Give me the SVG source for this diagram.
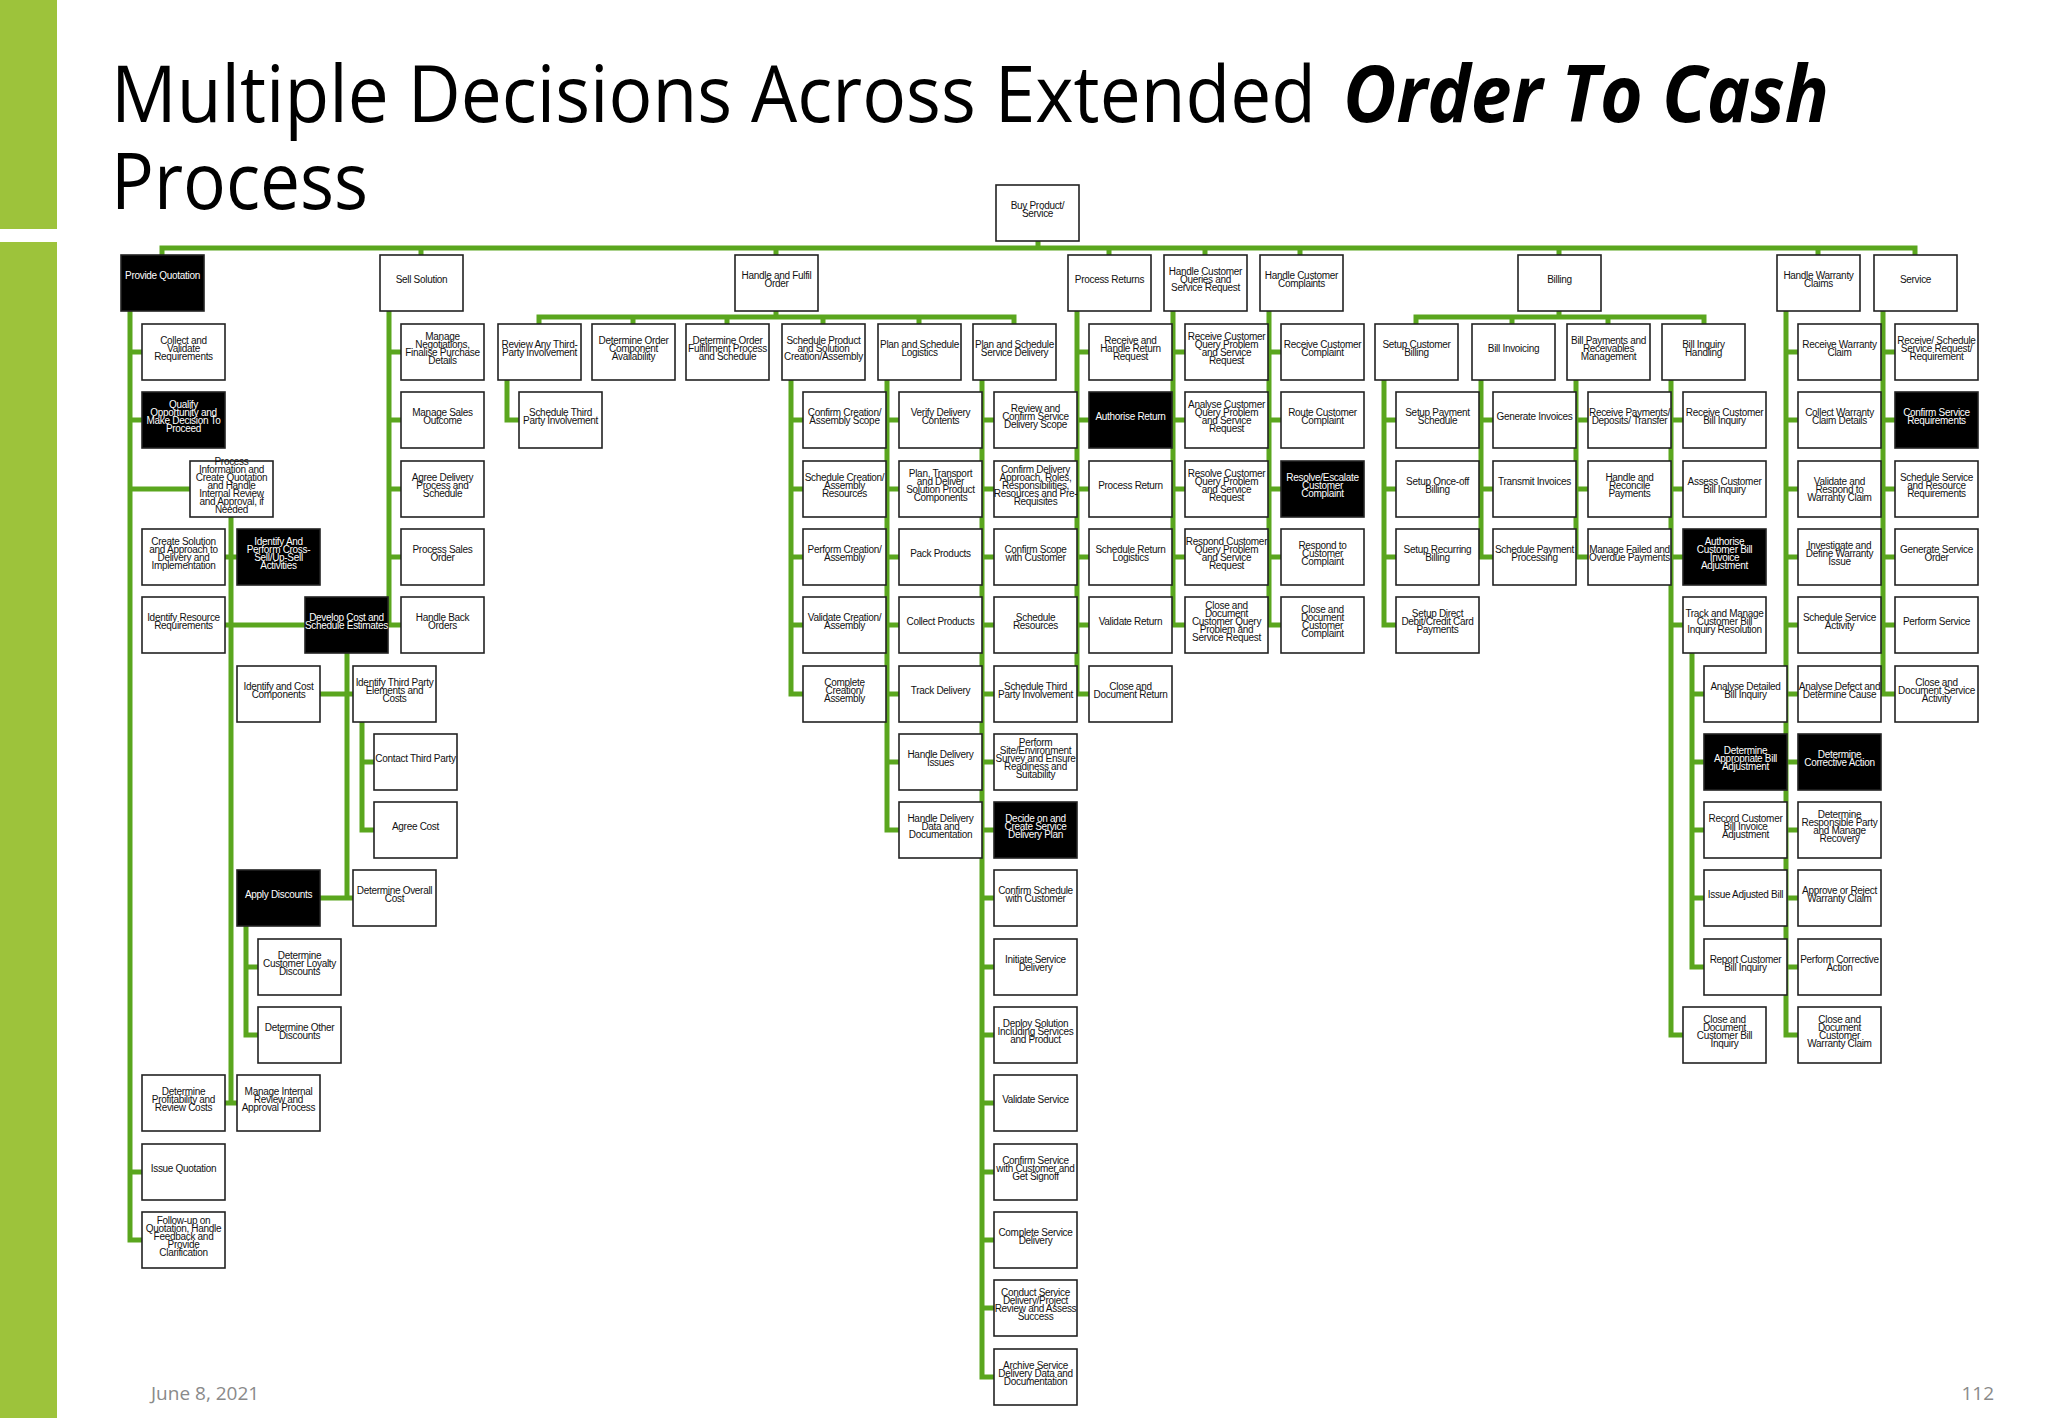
<svg xmlns="http://www.w3.org/2000/svg" width="2048" height="1418" viewBox="0 0 2048 1418">
<style>
.n rect{fill:#fff;stroke:#222;stroke-width:1.6}
.b rect{fill:#000;stroke:#222;stroke-width:1.6}
.n text,.b text{font-family:"Liberation Sans",Arial,sans-serif;font-size:10px;letter-spacing:-0.3px;text-anchor:middle}
.n text{fill:#111}.b text{fill:#fff}
#conn path{fill:none;stroke:#5aa61e;stroke-width:5;stroke-linecap:square}
.title{font-family:"Open Sans","Liberation Sans",sans-serif;font-size:78px;fill:#000}
.foot{font-family:"Open Sans","Liberation Sans",sans-serif;font-size:19px;fill:#8a8a8a}
</style>
<rect x="0" y="0" width="57" height="229" fill="#9dc33b"/>
<rect x="0" y="242" width="57" height="1176" fill="#9dc33b"/>
<text class="title" x="111" y="122" textLength="1205" lengthAdjust="spacingAndGlyphs">Multiple Decisions Across Extended</text>
<text class="title" x="1343" y="122" textLength="486" lengthAdjust="spacingAndGlyphs" font-weight="bold" font-style="italic">Order To Cash</text>
<text class="title" x="111" y="209" textLength="257" lengthAdjust="spacingAndGlyphs">Process</text>
<text class="foot" x="151" y="1400">June 8, 2021</text>
<text class="foot" x="1994" y="1400" text-anchor="end">112</text>
<g id="conn">
<path d="M162,248H1915M1038,242V248M162,248V255M421,248V255M776,248V255M1109,248V255M1205,248V255M1300,248V255M1559,248V255M1818,248V255M1915,248V255"/>
<path d="M130,311V1240M130,352H142M130,420H142M130,489H190M130,1172H142M130,1240H142"/>
<path d="M231,517V1103M225,557H237M225,625H305M225,1103H237"/>
<path d="M347,653V898M320,694H353M320,898H353"/>
<path d="M362,722V830M362,762H374M362,830H374"/>
<path d="M246,926V1035M246,967H258M246,1035H258"/>
<path d="M389,311V625M389,352H401M389,420H401M389,489H401M389,557H401M389,625H401"/>
<path d="M776,311V317M539,317H1014M539,317V324M633,317V324M727,317V324M823,317V324M919,317V324M1014,317V324"/>
<path d="M507,380V420H519"/>
<path d="M791,380V694M791,420H803M791,489H803M791,557H803M791,625H803M791,694H803"/>
<path d="M887,380V830M887,420H899M887,489H899M887,557H899M887,625H899M887,694H899M887,762H899M887,830H899"/>
<path d="M982,380V1377M982,420H994M982,489H994M982,557H994M982,625H994M982,694H994M982,762H994M982,830H994M982,898H994M982,967H994M982,1035H994M982,1103H994M982,1172H994M982,1240H994M982,1308H994M982,1377H994"/>
<path d="M1077,311V694M1077,352H1089M1077,420H1089M1077,489H1089M1077,557H1089M1077,625H1089M1077,694H1089"/>
<path d="M1173,311V625M1173,352H1185M1173,420H1185M1173,489H1185M1173,557H1185M1173,625H1185"/>
<path d="M1269,311V625M1269,352H1281M1269,420H1281M1269,489H1281M1269,557H1281M1269,625H1281"/>
<path d="M1559,311V317M1416,317H1704M1416,317V324M1512,317V324M1608,317V324M1704,317V324"/>
<path d="M1384,380V625M1384,420H1396M1384,489H1396M1384,557H1396M1384,625H1396"/>
<path d="M1481,380V557M1481,420H1493M1481,489H1493M1481,557H1493"/>
<path d="M1576,380V557M1576,420H1588M1576,489H1588M1576,557H1588"/>
<path d="M1671,380V1035M1671,420H1683M1671,489H1683M1671,557H1683M1671,625H1683M1671,1035H1683"/>
<path d="M1692,653V967M1692,694H1704M1692,762H1704M1692,830H1704M1692,898H1704M1692,967H1704"/>
<path d="M1786,311V1035M1786,352H1798M1786,420H1798M1786,489H1798M1786,557H1798M1786,625H1798M1786,694H1798M1786,762H1798M1786,830H1798M1786,898H1798M1786,967H1798M1786,1035H1798"/>
<path d="M1883,311V694M1883,352H1895M1883,420H1895M1883,489H1895M1883,557H1895M1883,625H1895M1883,694H1895"/>
</g>
<g id="buy" class="n"><rect x="996" y="185" width="83" height="56"/><text x="1037.5" y="209"><tspan x="1037.5">Buy Product/</tspan><tspan x="1037.5" dy="8">Service</tspan></text></g>
<g id="pq" class="b"><rect x="121" y="255" width="83" height="56"/><text x="162.5" y="279">Provide Quotation</text></g>
<g id="pq1" class="n"><rect x="142" y="324" width="83" height="56"/><text y="344"><tspan x="183.5">Collect and</tspan><tspan x="183.5" dy="8">Validate</tspan><tspan x="183.5" dy="8">Requirements</tspan></text></g>
<g id="pq2" class="b"><rect x="142" y="392" width="83" height="56"/><text y="408"><tspan x="183.5">Qualify</tspan><tspan x="183.5" dy="8">Opportunity and</tspan><tspan x="183.5" dy="8">Make Decision To</tspan><tspan x="183.5" dy="8">Proceed</tspan></text></g>
<g id="pq3" class="n"><rect x="190" y="461" width="83" height="56"/><text y="465"><tspan x="231.5">Process</tspan><tspan x="231.5" dy="8">Information and</tspan><tspan x="231.5" dy="8">Create Quotation</tspan><tspan x="231.5" dy="8">and Handle</tspan><tspan x="231.5" dy="8">Internal Review</tspan><tspan x="231.5" dy="8">and Approval, if</tspan><tspan x="231.5" dy="8">Needed</tspan></text></g>
<g id="pq4" class="n"><rect x="142" y="529" width="83" height="56"/><text y="545"><tspan x="183.5">Create Solution</tspan><tspan x="183.5" dy="8">and Approach to</tspan><tspan x="183.5" dy="8">Delivery and</tspan><tspan x="183.5" dy="8">Implementation</tspan></text></g>
<g id="pq5" class="b"><rect x="237" y="529" width="83" height="56"/><text y="545"><tspan x="278.5">Identify And</tspan><tspan x="278.5" dy="8">Perform Cross-</tspan><tspan x="278.5" dy="8">Sell/Up-Sell</tspan><tspan x="278.5" dy="8">Activities</tspan></text></g>
<g id="pq6" class="n"><rect x="142" y="597" width="83" height="56"/><text y="621"><tspan x="183.5">Identify Resource</tspan><tspan x="183.5" dy="8">Requirements</tspan></text></g>
<g id="pq7" class="b"><rect x="305" y="597" width="83" height="56"/><text y="621"><tspan x="346.5">Develop Cost and</tspan><tspan x="346.5" dy="8">Schedule Estimates</tspan></text></g>
<g id="pq8" class="n"><rect x="237" y="666" width="83" height="56"/><text y="690"><tspan x="278.5">Identify and Cost</tspan><tspan x="278.5" dy="8">Components</tspan></text></g>
<g id="pq9" class="n"><rect x="353" y="666" width="83" height="56"/><text y="686"><tspan x="394.5">Identify Third Party</tspan><tspan x="394.5" dy="8">Elements and</tspan><tspan x="394.5" dy="8">Costs</tspan></text></g>
<g id="pq10" class="n"><rect x="374" y="734" width="83" height="56"/><text x="415.5" y="762">Contact Third Party</text></g>
<g id="pq11" class="n"><rect x="374" y="802" width="83" height="56"/><text x="415.5" y="830">Agree Cost</text></g>
<g id="pq12" class="b"><rect x="237" y="870" width="83" height="56"/><text x="278.5" y="898">Apply Discounts</text></g>
<g id="pq13" class="n"><rect x="353" y="870" width="83" height="56"/><text y="894"><tspan x="394.5">Determine Overall</tspan><tspan x="394.5" dy="8">Cost</tspan></text></g>
<g id="pq14" class="n"><rect x="258" y="939" width="83" height="56"/><text y="959"><tspan x="299.5">Determine</tspan><tspan x="299.5" dy="8">Customer Loyalty</tspan><tspan x="299.5" dy="8">Discounts</tspan></text></g>
<g id="pq15" class="n"><rect x="258" y="1007" width="83" height="56"/><text y="1031"><tspan x="299.5">Determine Other</tspan><tspan x="299.5" dy="8">Discounts</tspan></text></g>
<g id="pq16" class="n"><rect x="142" y="1075" width="83" height="56"/><text y="1095"><tspan x="183.5">Determine</tspan><tspan x="183.5" dy="8">Profitability and</tspan><tspan x="183.5" dy="8">Review Costs</tspan></text></g>
<g id="pq17" class="n"><rect x="237" y="1075" width="83" height="56"/><text y="1095"><tspan x="278.5">Manage Internal</tspan><tspan x="278.5" dy="8">Review and</tspan><tspan x="278.5" dy="8">Approval Process</tspan></text></g>
<g id="pq18" class="n"><rect x="142" y="1144" width="83" height="56"/><text x="183.5" y="1172">Issue Quotation</text></g>
<g id="pq19" class="n"><rect x="142" y="1212" width="83" height="56"/><text y="1224"><tspan x="183.5">Follow-up on</tspan><tspan x="183.5" dy="8">Quotation, Handle</tspan><tspan x="183.5" dy="8">Feedback and</tspan><tspan x="183.5" dy="8">Provide</tspan><tspan x="183.5" dy="8">Clarification</tspan></text></g>
<g id="ss" class="n"><rect x="380" y="255" width="83" height="56"/><text x="421.5" y="283">Sell Solution</text></g>
<g id="ss1" class="n"><rect x="401" y="324" width="83" height="56"/><text y="340"><tspan x="442.5">Manage</tspan><tspan x="442.5" dy="8">Negotiations,</tspan><tspan x="442.5" dy="8">Finalise Purchase</tspan><tspan x="442.5" dy="8">Details</tspan></text></g>
<g id="ss2" class="n"><rect x="401" y="392" width="83" height="56"/><text y="416"><tspan x="442.5">Manage Sales</tspan><tspan x="442.5" dy="8">Outcome</tspan></text></g>
<g id="ss3" class="n"><rect x="401" y="461" width="83" height="56"/><text y="481"><tspan x="442.5">Agree Delivery</tspan><tspan x="442.5" dy="8">Process and</tspan><tspan x="442.5" dy="8">Schedule</tspan></text></g>
<g id="ss4" class="n"><rect x="401" y="529" width="83" height="56"/><text y="553"><tspan x="442.5">Process Sales</tspan><tspan x="442.5" dy="8">Order</tspan></text></g>
<g id="ss5" class="n"><rect x="401" y="597" width="83" height="56"/><text y="621"><tspan x="442.5">Handle Back</tspan><tspan x="442.5" dy="8">Orders</tspan></text></g>
<g id="hf" class="n"><rect x="735" y="255" width="83" height="56"/><text y="279"><tspan x="776.5">Handle and Fulfil</tspan><tspan x="776.5" dy="8">Order</tspan></text></g>
<g id="hf1" class="n"><rect x="498" y="324" width="83" height="56"/><text y="348"><tspan x="539.5">Review Any Third-</tspan><tspan x="539.5" dy="8">Party Involvement</tspan></text></g>
<g id="hf1a" class="n"><rect x="519" y="392" width="83" height="56"/><text y="416"><tspan x="560.5">Schedule Third</tspan><tspan x="560.5" dy="8">Party Involvement</tspan></text></g>
<g id="hf2" class="n"><rect x="592" y="324" width="83" height="56"/><text y="344"><tspan x="633.5">Determine Order</tspan><tspan x="633.5" dy="8">Component</tspan><tspan x="633.5" dy="8">Availability</tspan></text></g>
<g id="hf3" class="n"><rect x="686" y="324" width="83" height="56"/><text y="344"><tspan x="727.5">Determine Order</tspan><tspan x="727.5" dy="8">Fulfillment Process</tspan><tspan x="727.5" dy="8">and Schedule</tspan></text></g>
<g id="hf4" class="n"><rect x="782" y="324" width="83" height="56"/><text y="344"><tspan x="823.5">Schedule Product</tspan><tspan x="823.5" dy="8">and Solution</tspan><tspan x="823.5" dy="8">Creation/Assembly</tspan></text></g>
<g id="hf5" class="n"><rect x="878" y="324" width="83" height="56"/><text y="348"><tspan x="919.5">Plan and Schedule</tspan><tspan x="919.5" dy="8">Logistics</tspan></text></g>
<g id="hf6" class="n"><rect x="973" y="324" width="83" height="56"/><text y="348"><tspan x="1014.5">Plan and Schedule</tspan><tspan x="1014.5" dy="8">Service Delivery</tspan></text></g>
<g id="ca1" class="n"><rect x="803" y="392" width="83" height="56"/><text y="416"><tspan x="844.5">Confirm Creation/</tspan><tspan x="844.5" dy="8">Assembly Scope</tspan></text></g>
<g id="ca2" class="n"><rect x="803" y="461" width="83" height="56"/><text y="481"><tspan x="844.5">Schedule Creation/</tspan><tspan x="844.5" dy="8">Assembly</tspan><tspan x="844.5" dy="8">Resources</tspan></text></g>
<g id="ca3" class="n"><rect x="803" y="529" width="83" height="56"/><text y="553"><tspan x="844.5">Perform Creation/</tspan><tspan x="844.5" dy="8">Assembly</tspan></text></g>
<g id="ca4" class="n"><rect x="803" y="597" width="83" height="56"/><text y="621"><tspan x="844.5">Validate Creation/</tspan><tspan x="844.5" dy="8">Assembly</tspan></text></g>
<g id="ca5" class="n"><rect x="803" y="666" width="83" height="56"/><text y="686"><tspan x="844.5">Complete</tspan><tspan x="844.5" dy="8">Creation/</tspan><tspan x="844.5" dy="8">Assembly</tspan></text></g>
<g id="lg1" class="n"><rect x="899" y="392" width="83" height="56"/><text y="416"><tspan x="940.5">Verify Delivery</tspan><tspan x="940.5" dy="8">Contents</tspan></text></g>
<g id="lg2" class="n"><rect x="899" y="461" width="83" height="56"/><text y="477"><tspan x="940.5">Plan, Transport</tspan><tspan x="940.5" dy="8">and Deliver</tspan><tspan x="940.5" dy="8">Solution Product</tspan><tspan x="940.5" dy="8">Components</tspan></text></g>
<g id="lg3" class="n"><rect x="899" y="529" width="83" height="56"/><text x="940.5" y="557">Pack Products</text></g>
<g id="lg4" class="n"><rect x="899" y="597" width="83" height="56"/><text x="940.5" y="625">Collect Products</text></g>
<g id="lg5" class="n"><rect x="899" y="666" width="83" height="56"/><text x="940.5" y="694">Track Delivery</text></g>
<g id="lg6" class="n"><rect x="899" y="734" width="83" height="56"/><text y="758"><tspan x="940.5">Handle Delivery</tspan><tspan x="940.5" dy="8">Issues</tspan></text></g>
<g id="lg7" class="n"><rect x="899" y="802" width="83" height="56"/><text y="822"><tspan x="940.5">Handle Delivery</tspan><tspan x="940.5" dy="8">Data and</tspan><tspan x="940.5" dy="8">Documentation</tspan></text></g>
<g id="sd1" class="n"><rect x="994" y="392" width="83" height="56"/><text y="412"><tspan x="1035.5">Review and</tspan><tspan x="1035.5" dy="8">Confirm Service</tspan><tspan x="1035.5" dy="8">Delivery Scope</tspan></text></g>
<g id="sd2" class="n"><rect x="994" y="461" width="83" height="56"/><text y="473"><tspan x="1035.5">Confirm Delivery</tspan><tspan x="1035.5" dy="8">Approach, Roles,</tspan><tspan x="1035.5" dy="8">Responsibilities,</tspan><tspan x="1035.5" dy="8">Resources and Pre-</tspan><tspan x="1035.5" dy="8">Requisites</tspan></text></g>
<g id="sd3" class="n"><rect x="994" y="529" width="83" height="56"/><text y="553"><tspan x="1035.5">Confirm Scope</tspan><tspan x="1035.5" dy="8">with Customer</tspan></text></g>
<g id="sd4" class="n"><rect x="994" y="597" width="83" height="56"/><text y="621"><tspan x="1035.5">Schedule</tspan><tspan x="1035.5" dy="8">Resources</tspan></text></g>
<g id="sd5" class="n"><rect x="994" y="666" width="83" height="56"/><text y="690"><tspan x="1035.5">Schedule Third</tspan><tspan x="1035.5" dy="8">Party Involvement</tspan></text></g>
<g id="sd6" class="n"><rect x="994" y="734" width="83" height="56"/><text y="746"><tspan x="1035.5">Perform</tspan><tspan x="1035.5" dy="8">Site/Environment</tspan><tspan x="1035.5" dy="8">Survey and Ensure</tspan><tspan x="1035.5" dy="8">Readiness and</tspan><tspan x="1035.5" dy="8">Suitability</tspan></text></g>
<g id="sd7" class="b"><rect x="994" y="802" width="83" height="56"/><text y="822"><tspan x="1035.5">Decide  on and</tspan><tspan x="1035.5" dy="8">Create Service</tspan><tspan x="1035.5" dy="8">Delivery Plan</tspan></text></g>
<g id="sd8" class="n"><rect x="994" y="870" width="83" height="56"/><text y="894"><tspan x="1035.5">Confirm Schedule</tspan><tspan x="1035.5" dy="8">with Customer</tspan></text></g>
<g id="sd9" class="n"><rect x="994" y="939" width="83" height="56"/><text y="963"><tspan x="1035.5">Initiate Service</tspan><tspan x="1035.5" dy="8">Delivery</tspan></text></g>
<g id="sd10" class="n"><rect x="994" y="1007" width="83" height="56"/><text y="1027"><tspan x="1035.5">Deploy Solution</tspan><tspan x="1035.5" dy="8">Including Services</tspan><tspan x="1035.5" dy="8">and Product</tspan></text></g>
<g id="sd11" class="n"><rect x="994" y="1075" width="83" height="56"/><text x="1035.5" y="1103">Validate Service</text></g>
<g id="sd12" class="n"><rect x="994" y="1144" width="83" height="56"/><text y="1164"><tspan x="1035.5">Confirm Service</tspan><tspan x="1035.5" dy="8">with Customer and</tspan><tspan x="1035.5" dy="8">Get Signoff</tspan></text></g>
<g id="sd13" class="n"><rect x="994" y="1212" width="83" height="56"/><text y="1236"><tspan x="1035.5">Complete Service</tspan><tspan x="1035.5" dy="8">Delivery</tspan></text></g>
<g id="sd14" class="n"><rect x="994" y="1280" width="83" height="56"/><text y="1296"><tspan x="1035.5">Conduct Service</tspan><tspan x="1035.5" dy="8">Delivery/Project</tspan><tspan x="1035.5" dy="8">Review and Assess</tspan><tspan x="1035.5" dy="8">Success</tspan></text></g>
<g id="sd15" class="n"><rect x="994" y="1349" width="83" height="56"/><text y="1369"><tspan x="1035.5">Archive Service</tspan><tspan x="1035.5" dy="8">Delivery Data and</tspan><tspan x="1035.5" dy="8">Documentation</tspan></text></g>
<g id="pr" class="n"><rect x="1068" y="255" width="83" height="56"/><text x="1109.5" y="283">Process Returns</text></g>
<g id="pr1" class="n"><rect x="1089" y="324" width="83" height="56"/><text y="344"><tspan x="1130.5">Receive and</tspan><tspan x="1130.5" dy="8">Handle Return</tspan><tspan x="1130.5" dy="8">Request</tspan></text></g>
<g id="pr2" class="b"><rect x="1089" y="392" width="83" height="56"/><text x="1130.5" y="420">Authorise Return</text></g>
<g id="pr3" class="n"><rect x="1089" y="461" width="83" height="56"/><text x="1130.5" y="489">Process Return</text></g>
<g id="pr4" class="n"><rect x="1089" y="529" width="83" height="56"/><text y="553"><tspan x="1130.5">Schedule Return</tspan><tspan x="1130.5" dy="8">Logistics</tspan></text></g>
<g id="pr5" class="n"><rect x="1089" y="597" width="83" height="56"/><text x="1130.5" y="625">Validate Return</text></g>
<g id="pr6" class="n"><rect x="1089" y="666" width="83" height="56"/><text y="690"><tspan x="1130.5">Close and</tspan><tspan x="1130.5" dy="8">Document Return</tspan></text></g>
<g id="hq" class="n"><rect x="1164" y="255" width="83" height="56"/><text y="275"><tspan x="1205.5">Handle Customer</tspan><tspan x="1205.5" dy="8">Queries and</tspan><tspan x="1205.5" dy="8">Service Request</tspan></text></g>
<g id="hq1" class="n"><rect x="1185" y="324" width="83" height="56"/><text y="340"><tspan x="1226.5">Receive Customer</tspan><tspan x="1226.5" dy="8">Query Problem</tspan><tspan x="1226.5" dy="8">and Service</tspan><tspan x="1226.5" dy="8">Request</tspan></text></g>
<g id="hq2" class="n"><rect x="1185" y="392" width="83" height="56"/><text y="408"><tspan x="1226.5">Analyse Customer</tspan><tspan x="1226.5" dy="8">Query Problem</tspan><tspan x="1226.5" dy="8">and Service</tspan><tspan x="1226.5" dy="8">Request</tspan></text></g>
<g id="hq3" class="n"><rect x="1185" y="461" width="83" height="56"/><text y="477"><tspan x="1226.5">Resolve Customer</tspan><tspan x="1226.5" dy="8">Query Problem</tspan><tspan x="1226.5" dy="8">and Service</tspan><tspan x="1226.5" dy="8">Request</tspan></text></g>
<g id="hq4" class="n"><rect x="1185" y="529" width="83" height="56"/><text y="545"><tspan x="1226.5">Respond Customer</tspan><tspan x="1226.5" dy="8">Query Problem</tspan><tspan x="1226.5" dy="8">and Service</tspan><tspan x="1226.5" dy="8">Request</tspan></text></g>
<g id="hq5" class="n"><rect x="1185" y="597" width="83" height="56"/><text y="609"><tspan x="1226.5">Close and</tspan><tspan x="1226.5" dy="8">Document</tspan><tspan x="1226.5" dy="8">Customer Query</tspan><tspan x="1226.5" dy="8">Problem and</tspan><tspan x="1226.5" dy="8">Service Request</tspan></text></g>
<g id="hc" class="n"><rect x="1260" y="255" width="83" height="56"/><text y="279"><tspan x="1301.5">Handle Customer</tspan><tspan x="1301.5" dy="8">Complaints</tspan></text></g>
<g id="hc1" class="n"><rect x="1281" y="324" width="83" height="56"/><text y="348"><tspan x="1322.5">Receive Customer</tspan><tspan x="1322.5" dy="8">Complaint</tspan></text></g>
<g id="hc2" class="n"><rect x="1281" y="392" width="83" height="56"/><text y="416"><tspan x="1322.5">Route Customer</tspan><tspan x="1322.5" dy="8">Complaint</tspan></text></g>
<g id="hc3" class="b"><rect x="1281" y="461" width="83" height="56"/><text y="481"><tspan x="1322.5">Resolve/Escalate</tspan><tspan x="1322.5" dy="8">Customer</tspan><tspan x="1322.5" dy="8">Complaint</tspan></text></g>
<g id="hc4" class="n"><rect x="1281" y="529" width="83" height="56"/><text y="549"><tspan x="1322.5">Respond to</tspan><tspan x="1322.5" dy="8">Customer</tspan><tspan x="1322.5" dy="8">Complaint</tspan></text></g>
<g id="hc5" class="n"><rect x="1281" y="597" width="83" height="56"/><text y="613"><tspan x="1322.5">Close and</tspan><tspan x="1322.5" dy="8">Document</tspan><tspan x="1322.5" dy="8">Customer</tspan><tspan x="1322.5" dy="8">Complaint</tspan></text></g>
<g id="bl" class="n"><rect x="1518" y="255" width="83" height="56"/><text x="1559.5" y="283">Billing</text></g>
<g id="bl1" class="n"><rect x="1375" y="324" width="83" height="56"/><text y="348"><tspan x="1416.5">Setup Customer</tspan><tspan x="1416.5" dy="8">Billing</tspan></text></g>
<g id="bl2" class="n"><rect x="1472" y="324" width="83" height="56"/><text x="1513.5" y="352">Bill Invoicing</text></g>
<g id="bl3" class="n"><rect x="1567" y="324" width="83" height="56"/><text y="344"><tspan x="1608.5">Bill Payments and</tspan><tspan x="1608.5" dy="8">Receivables</tspan><tspan x="1608.5" dy="8">Management</tspan></text></g>
<g id="bl4" class="n"><rect x="1662" y="324" width="83" height="56"/><text y="348"><tspan x="1703.5">Bill Inquiry</tspan><tspan x="1703.5" dy="8">Handling</tspan></text></g>
<g id="sc1" class="n"><rect x="1396" y="392" width="83" height="56"/><text y="416"><tspan x="1437.5">Setup Payment</tspan><tspan x="1437.5" dy="8">Schedule</tspan></text></g>
<g id="sc2" class="n"><rect x="1396" y="461" width="83" height="56"/><text y="485"><tspan x="1437.5">Setup Once-off</tspan><tspan x="1437.5" dy="8">Billing</tspan></text></g>
<g id="sc3" class="n"><rect x="1396" y="529" width="83" height="56"/><text y="553"><tspan x="1437.5">Setup Recurring</tspan><tspan x="1437.5" dy="8">Billing</tspan></text></g>
<g id="sc4" class="n"><rect x="1396" y="597" width="83" height="56"/><text y="617"><tspan x="1437.5">Setup Direct</tspan><tspan x="1437.5" dy="8">Debit/Credit Card</tspan><tspan x="1437.5" dy="8">Payments</tspan></text></g>
<g id="iv1" class="n"><rect x="1493" y="392" width="83" height="56"/><text x="1534.5" y="420">Generate Invoices</text></g>
<g id="iv2" class="n"><rect x="1493" y="461" width="83" height="56"/><text x="1534.5" y="485">Transmit Invoices</text></g>
<g id="iv3" class="n"><rect x="1493" y="529" width="83" height="56"/><text y="553"><tspan x="1534.5">Schedule Payment</tspan><tspan x="1534.5" dy="8">Processing</tspan></text></g>
<g id="py1" class="n"><rect x="1588" y="392" width="83" height="56"/><text y="416"><tspan x="1629.5">Receive Payments/</tspan><tspan x="1629.5" dy="8">Deposits/ Transfer</tspan></text></g>
<g id="py2" class="n"><rect x="1588" y="461" width="83" height="56"/><text y="481"><tspan x="1629.5">Handle and</tspan><tspan x="1629.5" dy="8">Reconcile</tspan><tspan x="1629.5" dy="8">Payments</tspan></text></g>
<g id="py3" class="n"><rect x="1588" y="529" width="83" height="56"/><text y="553"><tspan x="1629.5">Manage Failed and</tspan><tspan x="1629.5" dy="8">Overdue Payments</tspan></text></g>
<g id="bq1" class="n"><rect x="1683" y="392" width="83" height="56"/><text y="416"><tspan x="1724.5">Receive Customer</tspan><tspan x="1724.5" dy="8">Bill Inquiry</tspan></text></g>
<g id="bq2" class="n"><rect x="1683" y="461" width="83" height="56"/><text y="485"><tspan x="1724.5">Assess Customer</tspan><tspan x="1724.5" dy="8">Bill Inquiry</tspan></text></g>
<g id="bq3" class="b"><rect x="1683" y="529" width="83" height="56"/><text y="545"><tspan x="1724.5">Authorise</tspan><tspan x="1724.5" dy="8">Customer Bill</tspan><tspan x="1724.5" dy="8">Invoice</tspan><tspan x="1724.5" dy="8">Adjustment</tspan></text></g>
<g id="bq4" class="n"><rect x="1683" y="597" width="83" height="56"/><text y="617"><tspan x="1724.5">Track and Manage</tspan><tspan x="1724.5" dy="8">Customer Bill</tspan><tspan x="1724.5" dy="8">Inquiry Resolution</tspan></text></g>
<g id="bq5" class="n"><rect x="1683" y="1007" width="83" height="56"/><text y="1023"><tspan x="1724.5">Close and</tspan><tspan x="1724.5" dy="8">Document</tspan><tspan x="1724.5" dy="8">Customer Bill</tspan><tspan x="1724.5" dy="8">Inquiry</tspan></text></g>
<g id="tr1" class="n"><rect x="1704" y="666" width="83" height="56"/><text y="690"><tspan x="1745.5">Analyse Detailed</tspan><tspan x="1745.5" dy="8">Bill Inquiry</tspan></text></g>
<g id="tr2" class="b"><rect x="1704" y="734" width="83" height="56"/><text y="754"><tspan x="1745.5">Determine</tspan><tspan x="1745.5" dy="8">Appropriate Bill</tspan><tspan x="1745.5" dy="8">Adjustment</tspan></text></g>
<g id="tr3" class="n"><rect x="1704" y="802" width="83" height="56"/><text y="822"><tspan x="1745.5">Record Customer</tspan><tspan x="1745.5" dy="8">Bill Invoice</tspan><tspan x="1745.5" dy="8">Adjustment</tspan></text></g>
<g id="tr4" class="n"><rect x="1704" y="870" width="83" height="56"/><text x="1745.5" y="898">Issue Adjusted Bill</text></g>
<g id="tr5" class="n"><rect x="1704" y="939" width="83" height="56"/><text y="963"><tspan x="1745.5">Report Customer</tspan><tspan x="1745.5" dy="8">Bill Inquiry</tspan></text></g>
<g id="hw" class="n"><rect x="1777" y="255" width="83" height="56"/><text y="279"><tspan x="1818.5">Handle Warranty</tspan><tspan x="1818.5" dy="8">Claims</tspan></text></g>
<g id="hw1" class="n"><rect x="1798" y="324" width="83" height="56"/><text y="348"><tspan x="1839.5">Receive Warranty</tspan><tspan x="1839.5" dy="8">Claim</tspan></text></g>
<g id="hw2" class="n"><rect x="1798" y="392" width="83" height="56"/><text y="416"><tspan x="1839.5">Collect Warranty</tspan><tspan x="1839.5" dy="8">Claim Details</tspan></text></g>
<g id="hw3" class="n"><rect x="1798" y="461" width="83" height="56"/><text y="485"><tspan x="1839.5">Validate and</tspan><tspan x="1839.5" dy="8">Respond to</tspan><tspan x="1839.5" dy="8">Warranty Claim</tspan></text></g>
<g id="hw4" class="n"><rect x="1798" y="529" width="83" height="56"/><text y="549"><tspan x="1839.5">Investigate and</tspan><tspan x="1839.5" dy="8">Define Warranty</tspan><tspan x="1839.5" dy="8">Issue</tspan></text></g>
<g id="hw5" class="n"><rect x="1798" y="597" width="83" height="56"/><text y="621"><tspan x="1839.5">Schedule Service</tspan><tspan x="1839.5" dy="8">Activity</tspan></text></g>
<g id="hw6" class="n"><rect x="1798" y="666" width="83" height="56"/><text y="690"><tspan x="1839.5">Analyse Defect and</tspan><tspan x="1839.5" dy="8">Determine Cause</tspan></text></g>
<g id="hw7" class="b"><rect x="1798" y="734" width="83" height="56"/><text y="758"><tspan x="1839.5">Determine</tspan><tspan x="1839.5" dy="8">Corrective Action</tspan></text></g>
<g id="hw8" class="n"><rect x="1798" y="802" width="83" height="56"/><text y="818"><tspan x="1839.5">Determine</tspan><tspan x="1839.5" dy="8">Responsible Party</tspan><tspan x="1839.5" dy="8">and Manage</tspan><tspan x="1839.5" dy="8">Recovery</tspan></text></g>
<g id="hw9" class="n"><rect x="1798" y="870" width="83" height="56"/><text y="894"><tspan x="1839.5">Approve or Reject</tspan><tspan x="1839.5" dy="8">Warranty Claim</tspan></text></g>
<g id="hw10" class="n"><rect x="1798" y="939" width="83" height="56"/><text y="963"><tspan x="1839.5">Perform Corrective</tspan><tspan x="1839.5" dy="8">Action</tspan></text></g>
<g id="hw11" class="n"><rect x="1798" y="1007" width="83" height="56"/><text y="1023"><tspan x="1839.5">Close and</tspan><tspan x="1839.5" dy="8">Document</tspan><tspan x="1839.5" dy="8">Customer</tspan><tspan x="1839.5" dy="8">Warranty Claim</tspan></text></g>
<g id="sv" class="n"><rect x="1874" y="255" width="83" height="56"/><text x="1915.5" y="283">Service</text></g>
<g id="sv1" class="n"><rect x="1895" y="324" width="83" height="56"/><text y="344"><tspan x="1936.5">Receive/ Schedule</tspan><tspan x="1936.5" dy="8">Service Request/</tspan><tspan x="1936.5" dy="8">Requirement</tspan></text></g>
<g id="sv2" class="b"><rect x="1895" y="392" width="83" height="56"/><text y="416"><tspan x="1936.5">Confirm Service</tspan><tspan x="1936.5" dy="8">Requirements</tspan></text></g>
<g id="sv3" class="n"><rect x="1895" y="461" width="83" height="56"/><text y="481"><tspan x="1936.5">Schedule Service</tspan><tspan x="1936.5" dy="8">and Resource</tspan><tspan x="1936.5" dy="8">Requirements</tspan></text></g>
<g id="sv4" class="n"><rect x="1895" y="529" width="83" height="56"/><text y="553"><tspan x="1936.5">Generate Service</tspan><tspan x="1936.5" dy="8">Order</tspan></text></g>
<g id="sv5" class="n"><rect x="1895" y="597" width="83" height="56"/><text x="1936.5" y="625">Perform Service</text></g>
<g id="sv6" class="n"><rect x="1895" y="666" width="83" height="56"/><text y="686"><tspan x="1936.5">Close and</tspan><tspan x="1936.5" dy="8">Document Service</tspan><tspan x="1936.5" dy="8">Activity</tspan></text></g>
</svg>
